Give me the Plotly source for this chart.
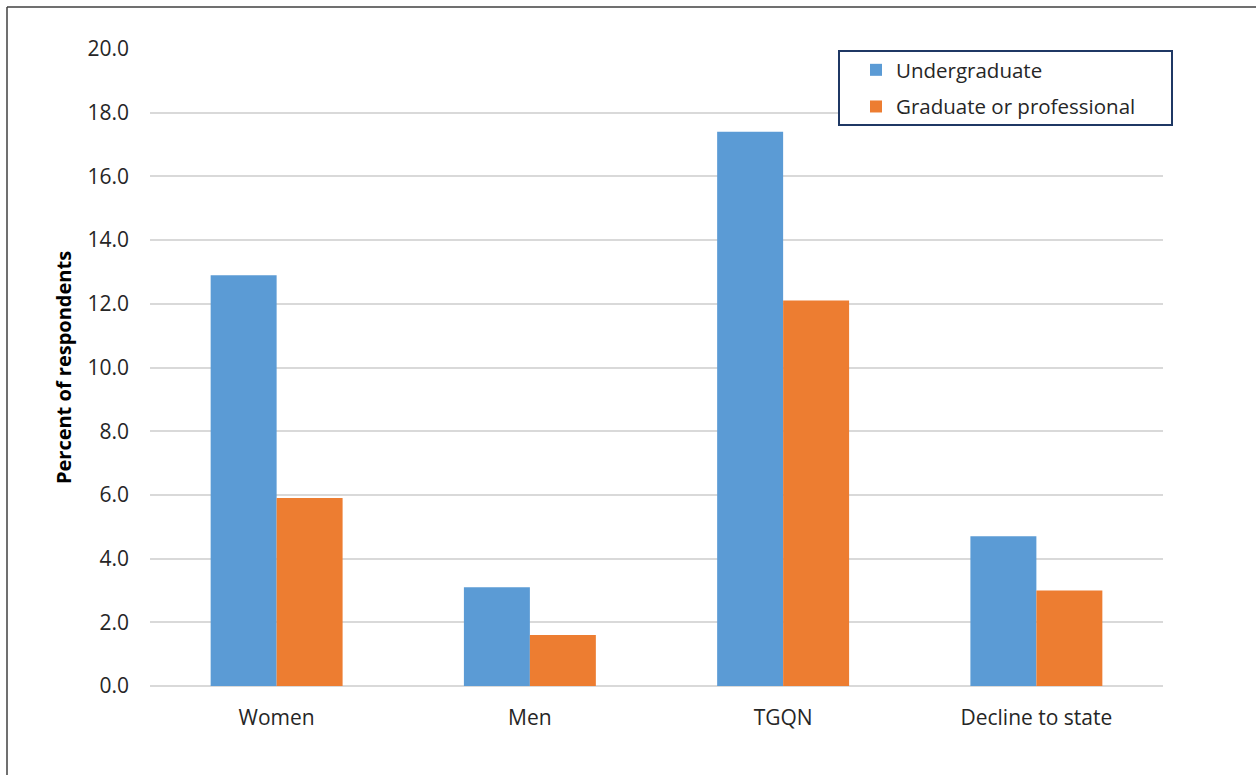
import plotly.graph_objects as go

categories = ["Women", "Men", "TGQN", "Decline to state"]
undergrad = [12.9, 3.1, 17.4, 4.7]
grad = [5.9, 1.6, 12.1, 3.0]
series_names = ["Undergraduate", "Graduate or professional"]
y_ticks = [0, 2, 4, 6, 8, 10, 12, 14, 16, 18, 20]

W, H = 1257, 775
L, R, T, B = 150, 1257 - 1163, 49, 775 - 686
pw, ph = W - L - R, H - T - B

def px(x):
    return (x - L) / pw

def py(y):
    return (H - B - y) / ph

fig = go.Figure()
fig.add_trace(go.Bar(x=categories, y=undergrad, name=series_names[0], legendgroup="a",
                     marker=dict(color="#5B9BD5", line=dict(width=0))))
fig.add_trace(go.Bar(x=categories, y=grad, name=series_names[1], legendgroup="b",
                     marker=dict(color="#ED7D31", line=dict(width=0))))

font_family = "Open Sans, Noto Sans, sans-serif"

fig.update_layout(
    width=W, height=H,
    margin=dict(l=L, r=R, t=T, b=B, pad=0),
    paper_bgcolor="white", plot_bgcolor="white",
    barmode="group", bargap=0.479, bargroupgap=0,
    font=dict(family=font_family, size=21, color="#404040"),
    showlegend=True,
    legend=dict(
        x=px(856), y=py(50), xanchor="left", yanchor="top",
        bgcolor="rgba(0,0,0,0)", borderwidth=0,
        font=dict(size=20.5, color="#262626", family=font_family),
        traceorder="grouped", tracegroupgap=7,
    ),
    xaxis=dict(
        showgrid=False, showline=False, zeroline=False,
        ticks="", ticklabelstandoff=17,
        tickfont=dict(size=21, color="#262626"),
    ),
    yaxis=dict(
        range=[0, 20], tickvals=y_ticks,
        ticktext=[f"{v:.1f}" for v in y_ticks],
        showgrid=True, gridcolor="#D9D9D9", gridwidth=2,
        zeroline=True, zerolinecolor="#D9D9D9", zerolinewidth=2,
        showline=False, ticks="", ticklabelstandoff=20,
        tickfont=dict(size=21, color="#262626"),
        title=dict(text="<b>Percent of respondents</b>", standoff=10,
                   font=dict(size=20, color="#000000")),
    ),
    shapes=[
        dict(type="line", xref="paper", yref="paper",
             x0=px(7), x1=px(7), y0=py(7), y1=py(800),
             line=dict(color="#404040", width=1.5)),
        dict(type="line", xref="paper", yref="paper",
             x0=px(7), x1=px(1256), y0=py(7), y1=py(7),
             line=dict(color="#404040", width=1.5)),
        dict(type="rect", xref="paper", yref="paper", layer="above",
             x0=px(839), x1=px(1172), y0=py(51), y1=py(125),
             fillcolor="white", line=dict(color="#1F3864", width=2)),
    ],
)

fig.write_html("out.html", config={"displayModeBar": False},
               post_script="document.body.style.margin='0';")
